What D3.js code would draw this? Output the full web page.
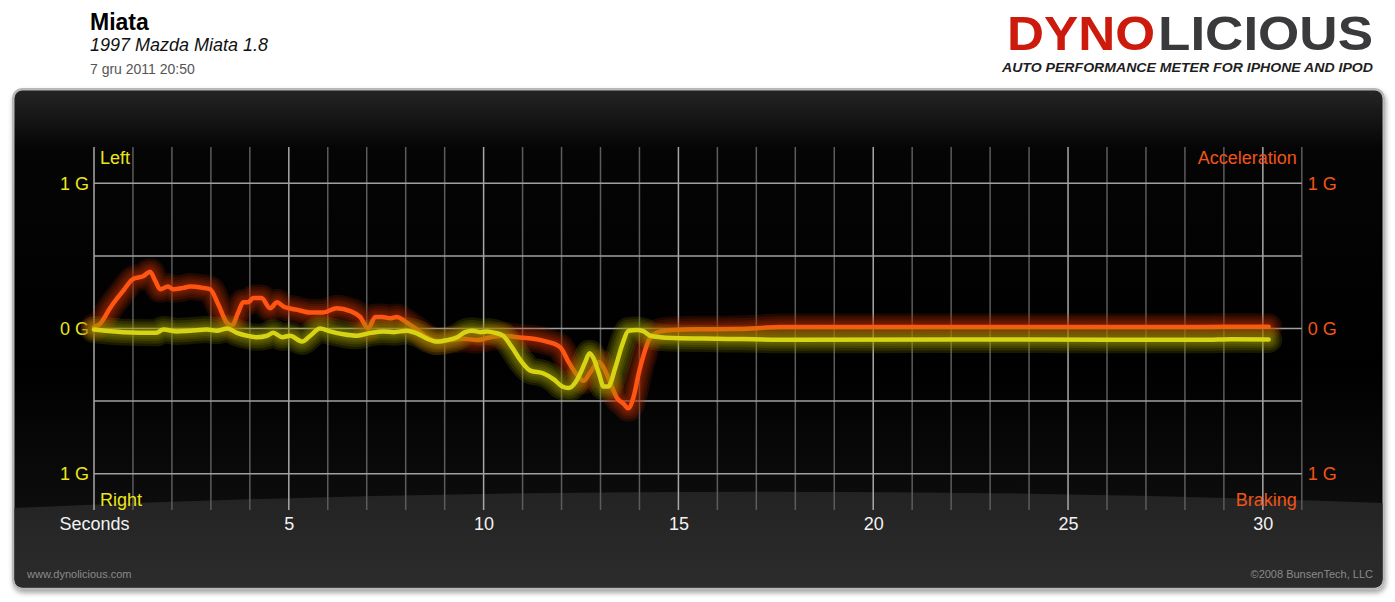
<!DOCTYPE html>
<html><head><meta charset="utf-8">
<script src="https://cdn.jsdelivr.net/npm/d3@7"></script>
<style>
html,body{margin:0;padding:0;background:#fff;}
svg{display:block;}
</style></head>
<body>
<script>
// ---- data ----
const titleText = "Miata";
const subtitleText = "1997 Mazda Miata 1.8";
const dateText = "7 gru 2011 20:50";
const xTickValues = [0, 5, 10, 15, 20, 25, 30];
const xTickLabels = ["Seconds", "5", "10", "15", "20", "25", "30"];
const yTickValues = [1, 0, -1];
const yTickLabels = ["1 G", "0 G", "1 G"];
const yGridValues = [1, 0.5, 0, -0.5, -1];
// acceleration / braking (orange): [seconds, G]
const accelData = [[0,0.01],[0.15,0.03],[0.41,0.14],[0.75,0.26],[1.0,0.34],[1.26,0.36],[1.44,0.39],[1.57,0.33],[1.7,0.27],[1.9,0.29],[2.03,0.27],[2.29,0.28],[2.47,0.29],[2.8,0.28],[2.98,0.27],[3.2,0.16],[3.41,0.04],[3.54,0.02],[3.7,0.11],[3.83,0.18],[3.95,0.18],[4.09,0.21],[4.3,0.21],[4.52,0.14],[4.7,0.18],[4.87,0.15],[5.2,0.13],[5.55,0.11],[5.89,0.11],[6.23,0.14],[6.58,0.12],[6.83,0.08],[7.04,0.0],[7.22,0.08],[7.4,0.08],[7.6,0.07],[7.77,0.08],[8.03,0.04],[8.3,-0.01],[8.55,-0.06],[8.84,-0.09],[9.14,-0.08],[9.49,-0.07],[9.83,-0.08],[10.17,-0.06],[10.51,-0.05],[10.86,-0.06],[11.28,-0.07],[11.62,-0.09],[11.97,-0.13],[12.18,-0.23],[12.4,-0.32],[12.57,-0.36],[12.74,-0.30],[12.96,-0.23],[13.08,-0.27],[13.26,-0.38],[13.43,-0.48],[13.6,-0.52],[13.71,-0.55],[13.85,-0.47],[13.98,-0.31],[14.11,-0.18],[14.28,-0.06],[14.54,-0.02],[14.87,-0.01],[15.5,-0.005],[16.5,-0.004],[17.1,0.004],[17.6,0.01],[20,0.01],[25,0.01],[28,0.01],[29,0.012],[30.15,0.012]];
// lateral left / right (yellow): [seconds, G]
const lateralData = [[0,-0.007],[0.75,-0.025],[1.6,-0.03],[1.78,-0.007],[2.13,-0.02],[2.47,-0.015],[2.9,-0.007],[3.15,-0.015],[3.42,0.0],[3.67,-0.03],[3.93,-0.05],[4.18,-0.06],[4.44,-0.05],[4.6,-0.03],[4.83,-0.06],[5.03,-0.05],[5.34,-0.09],[5.55,-0.05],[5.8,0.0],[6.06,-0.02],[6.4,-0.04],[6.75,-0.05],[7.1,-0.03],[7.43,-0.02],[7.7,-0.025],[8.03,-0.015],[8.3,-0.035],[8.55,-0.07],[8.8,-0.09],[9.06,-0.08],[9.32,-0.06],[9.53,-0.025],[9.7,-0.015],[9.92,-0.025],[10.09,-0.02],[10.3,-0.03],[10.5,-0.05],[10.73,-0.13],[10.95,-0.22],[11.2,-0.29],[11.54,-0.31],[11.8,-0.35],[12.02,-0.40],[12.18,-0.41],[12.36,-0.37],[12.48,-0.31],[12.61,-0.23],[12.72,-0.17],[12.83,-0.21],[12.96,-0.31],[13.08,-0.40],[13.2,-0.40],[13.38,-0.27],[13.56,-0.11],[13.72,-0.015],[13.94,-0.01],[14.11,-0.02],[14.28,-0.05],[14.54,-0.06],[14.87,-0.065],[16,-0.07],[18,-0.078],[22,-0.076],[26,-0.077],[28.5,-0.078],[29.2,-0.074],[30.15,-0.075]];

// ---- layout ----
const W = 1395, H = 602;
const FONT = "'Liberation Sans', Arial, Helvetica, sans-serif";
const YEL = "#ece61a", ORA = "#f25418";
const svg = d3.select("body").append("svg").attr("width", W).attr("height", H);
const defs = svg.append("defs");

const x = d3.scaleLinear().domain([0, 31]).range([94, 1301.8]);
const y = d3.scaleLinear().domain([-1.25, 1.25]).range([510, 147]);

// header
svg.append("text").attr("x", 90).attr("y", 30).attr("font-family", FONT).attr("font-weight", "bold").attr("font-size", 23).attr("fill", "#000").text(titleText);
svg.append("text").attr("x", 90).attr("y", 51).attr("font-family", FONT).attr("font-style", "italic").attr("font-size", 18).attr("fill", "#111").text(subtitleText);
svg.append("text").attr("x", 90).attr("y", 74).attr("font-family", FONT).attr("font-size", 14).attr("fill", "#555").text(dateText);

// logo
const logo = svg.append("g").attr("font-family", FONT).attr("font-weight", "bold");
logo.append("text").attr("x", 1007).attr("y", 50).attr("font-size", 48).attr("fill", "#cc1a0c")
  .attr("textLength", 148).attr("lengthAdjust", "spacingAndGlyphs").text("DYNO");
logo.append("text").attr("x", 1158).attr("y", 50).attr("font-size", 48).attr("fill", "#3a3a3c")
  .attr("textLength", 215).attr("lengthAdjust", "spacingAndGlyphs").text("LICIOUS");
logo.append("text").attr("x", 1002).attr("y", 71.5).attr("font-size", 12).attr("font-style", "italic").attr("fill", "#1e1e1e")
  .attr("textLength", 371).attr("lengthAdjust", "spacingAndGlyphs").text("AUTO PERFORMANCE METER FOR IPHONE AND IPOD");

// panel
const gTop = defs.append("linearGradient").attr("id", "gTop").attr("x1", 0).attr("y1", 0).attr("x2", 0).attr("y2", 1);
gTop.append("stop").attr("offset", "0%").attr("stop-color", "#262626");
gTop.append("stop").attr("offset", "12%").attr("stop-color", "#050505");
gTop.append("stop").attr("offset", "55%").attr("stop-color", "#000");
gTop.append("stop").attr("offset", "100%").attr("stop-color", "#141414");
const gBot = defs.append("linearGradient").attr("id", "gBot").attr("x1", 0).attr("y1", 0).attr("x2", 0).attr("y2", 1);
gBot.append("stop").attr("offset", "0%").attr("stop-color", "#232323");
gBot.append("stop").attr("offset", "100%").attr("stop-color", "#2c2c2c");
const shadow = defs.append("filter").attr("id", "shadow").attr("x", "-5%").attr("y", "-5%").attr("width", "110%").attr("height", "115%");
shadow.append("feDropShadow").attr("dx", 1).attr("dy", 3).attr("stdDeviation", 2.5).attr("flood-color", "#000").attr("flood-opacity", 0.35);

const px0 = 12, py0 = 88, px1 = 1385, py1 = 590, rad = 10;
svg.append("rect").attr("x", px0).attr("y", py0).attr("width", px1 - px0).attr("height", py1 - py0).attr("rx", rad)
  .attr("fill", "#b8b8b8").attr("filter", "url(#shadow)");
defs.append("clipPath").attr("id", "inner").append("rect").attr("x", px0 + 2.5).attr("y", py0 + 2.5)
  .attr("width", px1 - px0 - 5).attr("height", py1 - py0 - 5).attr("rx", rad - 2);
const inner = svg.append("g").attr("clip-path", "url(#inner)");
inner.append("rect").attr("x", px0).attr("y", py0).attr("width", px1 - px0).attr("height", py1 - py0).attr("fill", "url(#gTop)");
inner.append("path").attr("d", `M${px0},508 Q700,478 ${px1},503 L${px1},${py1} L${px0},${py1} Z`).attr("fill", "url(#gBot)");

// grid
const grid = svg.append("g");
grid.selectAll("line.v").data(d3.range(0, 32)).join("line")
  .attr("x1", d => x(d)).attr("x2", d => x(d)).attr("y1", y(1.25)).attr("y2", y(-1.25))
  .attr("stroke", d => d % 5 === 0 ? "#a8a8a8" : "#5c5c5c").attr("stroke-width", 1.5);
grid.selectAll("line.h").data(yGridValues).join("line")
  .attr("x1", x(0)).attr("x2", x(31)).attr("y1", d => y(d)).attr("y2", d => y(d))
  .attr("stroke", "#a0a0a0").attr("stroke-width", 1.5);

// axes
function styleAxis(g, color, size) {
  g.select(".domain").remove();
  g.selectAll(".tick line").remove();
  g.selectAll(".tick text").attr("fill", color).attr("font-family", FONT).attr("font-size", size);
}
svg.append("g").attr("transform", `translate(0,${y(-1.25)})`)
  .call(d3.axisBottom(x).tickValues(xTickValues).tickSize(0).tickPadding(7).tickFormat((d, i) => xTickLabels[i]))
  .call(g => styleAxis(g, "#f2f2f2", 18));
svg.append("g").attr("transform", `translate(${x(0) - 5},0)`)
  .call(d3.axisLeft(y).tickValues(yTickValues).tickSize(0).tickPadding(0).tickFormat((d, i) => yTickLabels[i]))
  .call(g => styleAxis(g, YEL, 18));
svg.append("g").attr("transform", `translate(${x(31) + 6},0)`)
  .call(d3.axisRight(y).tickValues(yTickValues).tickSize(0).tickPadding(0).tickFormat((d, i) => yTickLabels[i]))
  .call(g => styleAxis(g, ORA, 18));

// corner labels
const lab = svg.append("g").attr("font-family", FONT).attr("font-size", 18);
lab.append("text").attr("x", x(0) + 6).attr("y", 164).attr("fill", YEL).text("Left");
lab.append("text").attr("x", x(0) + 6).attr("y", 506).attr("fill", YEL).text("Right");
lab.append("text").attr("x", x(31) - 5).attr("y", 164).attr("text-anchor", "end").attr("fill", ORA).text("Acceleration");
lab.append("text").attr("x", x(31) - 5).attr("y", 506).attr("text-anchor", "end").attr("fill", ORA).text("Braking");

// footer
svg.append("text").attr("x", 27).attr("y", 578).attr("font-family", FONT).attr("font-size", 11).attr("fill", "#8a8a8a").text("www.dynolicious.com");
svg.append("text").attr("x", 1373).attr("y", 578).attr("text-anchor", "end").attr("font-family", FONT).attr("font-size", 11).attr("fill", "#8a8a8a").text("©2008 BunsenTech, LLC");

// lines with glow
const line = d3.line().x(d => x(d[0])).y(d => y(d[1])).curve(d3.curveMonotoneX);
function glowLine(data, glowColor, color) {
  const g = svg.append("g").attr("fill", "none").attr("stroke-linecap", "round").attr("stroke-linejoin", "round");
  [27, 22, 17, 13, 9].forEach(w => {
    g.append("path").attr("d", line(data)).attr("stroke", glowColor).attr("stroke-width", w).attr("stroke-opacity", 0.17);
  });
  g.append("path").attr("d", line(data)).attr("stroke", color).attr("stroke-width", 4.5);
}
glowLine(accelData, "#b83208", "#ff5512");
glowLine(lateralData, "#9a9a00", "#d6d414");
</script>
</body></html>
